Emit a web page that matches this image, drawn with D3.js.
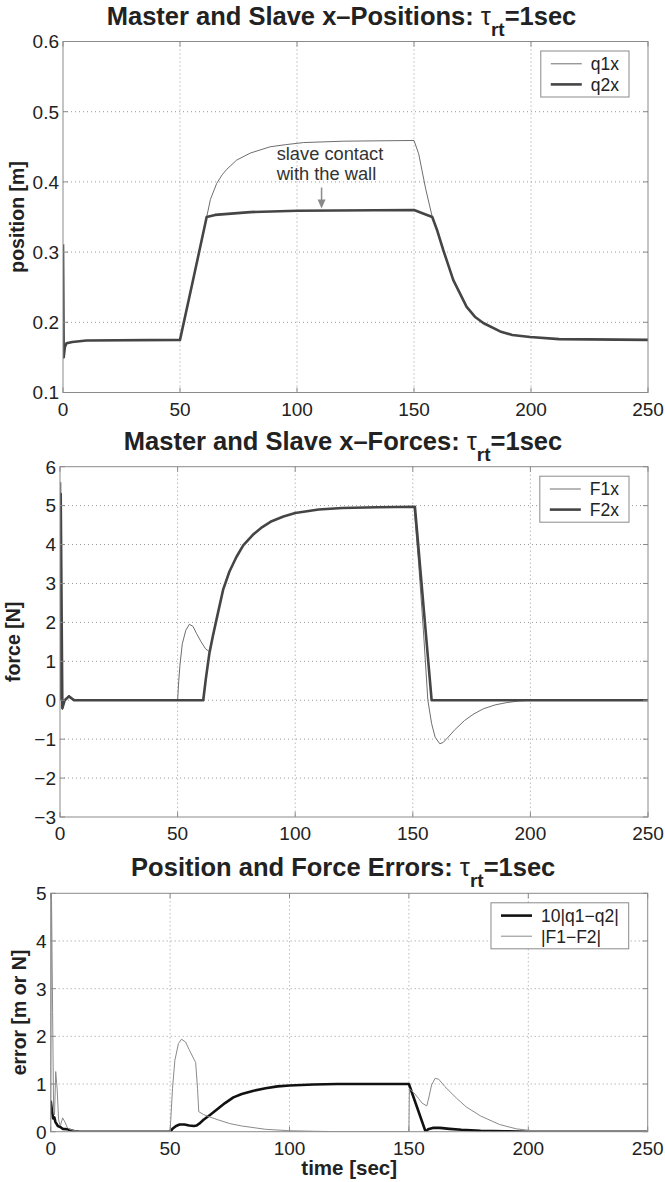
<!DOCTYPE html>
<html>
<head>
<meta charset="utf-8">
<script src="https://cdn.jsdelivr.net/npm/d3@7"></script>
<style>
  body { margin: 0; background: #fff; }
  svg { display: block; font-family: "Liberation Sans", Arial, Helvetica, sans-serif; }
</style>
</head>
<body>
<svg id="chart" width="665" height="1182"></svg>
<script>
// ---- data ----
const xTicks = [0, 50, 100, 150, 200, 250]
const posTicks = [0.1, 0.2, 0.3, 0.4, 0.5, 0.6]
const forceTicks = [-3, -2, -1, 0, 1, 2, 3, 4, 5, 6]
const errTicks = [0, 1, 2, 3, 4, 5]

// [time, value]
const q1x = [[0,0.30],[0.3,0.15],[0.8,0.165],[1.5,0.17],[4,0.172],[10,0.174],[50,0.175],[55.7,0.262],
  [61.4,0.35],[63,0.375],[65.7,0.398],[68,0.41],[70,0.418],[74.2,0.431],[80,0.441],[88.5,0.45],
  [95,0.453],[102.7,0.456],[120,0.458],[150,0.459],[152,0.44],[155,0.39],[157.8,0.35],[160,0.33],
  [162.5,0.303],[166.8,0.26],[172.5,0.222],[176,0.208],[179.6,0.199],[186.8,0.187],[192,0.182],
  [199.6,0.179],[212,0.176],[250,0.175]]
const q2x = [[0,0.311],[0.3,0.15],[0.8,0.165],[1.5,0.17],[4,0.172],[10,0.174],[50,0.175],[55.7,0.262],
  [61.4,0.35],[65,0.353],[80,0.357],[100,0.359],[150,0.36],[157.8,0.35],[160,0.33],
  [162.5,0.303],[166.8,0.26],[172.5,0.222],[176,0.208],[179.6,0.199],[186.8,0.187],[192,0.182],
  [199.6,0.179],[212,0.176],[250,0.175]]

const f1x = [[0,0],[0.3,5.6],[1,-0.25],[2,0],[3.8,0.13],[5.5,0.03],[8,0],[50,0],[50.5,0.5],[51,0.9],
  [52,1.45],[53.5,1.8],[55,1.95],[56.5,1.9],[58,1.72],[60,1.5],[61.9,1.32],[63.5,1.25],[65,1.65],
  [67,2.2],[69.4,2.85],[72,3.3],[75,3.68],[77.9,3.98],[82,4.25],[86,4.45],[90,4.6],[95,4.72],
  [100,4.81],[110,4.9],[120,4.94],[135,4.96],[150.5,4.97],[152.5,3.5],[154.5,1.8],[156.4,0],
  [158,-0.6],[159.5,-0.95],[161.5,-1.12],[163,-1.08],[165,-0.95],[168,-0.75],[172,-0.52],
  [176,-0.35],[180,-0.22],[185,-0.12],[190,-0.06],[195,-0.02],[200,0],[250,0]]
const f2x = [[0,0],[0.3,5.3],[1,-0.2],[2,0],[3.8,0.1],[6,0],[50,0],[60.9,0],[62,0.55],[63.5,1.2],
  [65,1.65],[67,2.2],[69.4,2.85],[72,3.3],[75,3.68],[77.9,3.98],[82,4.25],[86,4.45],[90,4.6],
  [95,4.72],[100,4.81],[110,4.9],[120,4.94],[135,4.96],[150.9,4.97],[158,0],[250,0]]

const posErr = [[0,0.65],[0.5,0.45],[1,0.28],[1.5,0.3],[2,0.2],[3,0.12],[4,0.1],[5,0.06],[7,0.05],
  [10,0.01],[12,0],[50,0],[51,0.06],[52.5,0.12],[54,0.15],[56,0.15],[58,0.13],[60,0.12],[61.1,0.13],
  [62.5,0.18],[64,0.25],[66.7,0.35],[70,0.48],[73,0.6],[76.5,0.72],[80,0.79],[85,0.86],[90,0.91],
  [95,0.95],[100,0.97],[110,0.99],[120,1.0],[150,1.0],[157,0],[158,0.05],[160,0.08],[163,0.08],
  [167,0.06],[172,0.04],[180,0.02],[190,0.01],[200,0],[250,0]]
const forceErr = [[0,0],[0.3,5.1],[0.8,2.5],[1.2,0.5],[1.6,0.35],[2.1,1.26],[2.7,0.9],[3.3,0.25],
  [4,0.12],[5,0.29],[6,0.2],[7,0.08],[8,0.05],[10,0.02],[12,0],[50,0],[51,0.9],[52,1.5],[53.5,1.85],
  [54.8,1.94],[56.5,1.88],[58,1.72],[60,1.52],[60.7,1.45],[61.5,0.9],[62,0.42],[64,0.36],[66,0.32],
  [70,0.25],[75,0.17],[80,0.12],[90,0.05],[100,0.02],[110,0.01],[120,0],[150,0],[150.2,0.9],
  [152,0.82],[154,0.7],[155.5,0.6],[157.5,0.54],[158.5,0.75],[159.5,0.98],[161,1.12],[162.5,1.1],
  [165,0.95],[170,0.7],[174,0.52],[180,0.33],[188,0.15],[195,0.06],[200,0.03],[207,0],[250,0]]

const annotText = ["slave contact", "with the wall"]
const annotAt = [91.3, 0.431]
const arrowAt = [110.5, 0.392, 0.362]

// ---- drawing ----
const svg = d3.select("#chart")
svg.append("rect").attr("width", 665).attr("height", 1182).attr("fill", "#fff")

const GRID = "#9a9a9a"
const FRAME = "#8a8a8a"
const TXT = "#222"

const panels = [
  { id: "p1", box: { left: 63, right: 648, top: 41.5, bottom: 392.5 }, domain: [0.1, 0.6], ticks: posTicks,
    fmt: d3.format(".1f"), title: "Master and Slave x\u2013Positions: ", titleDx: -14,
    ylabel: "position [m]", ylabelX: 24,
    series: [ { name: "q1x", data: q1x, color: "#6e6e6e", width: 1 },
              { name: "q2x", data: q2x, color: "#454545", width: 2.6 } ] },
  { id: "p2", box: { left: 60, right: 648, top: 466.7, bottom: 817 }, domain: [-3, 6], ticks: forceTicks,
    fmt: d3.format("d"), title: "Master and Slave x\u2013Forces: ", titleDx: -11,
    ylabel: "force [N]", ylabelX: 20,
    series: [ { name: "F1x", data: f1x, color: "#6e6e6e", width: 1 },
              { name: "F2x", data: f2x, color: "#454545", width: 2.6 } ] },
  { id: "p3", box: { left: 50.7, right: 647.7, top: 893.3, bottom: 1131.7 }, domain: [0, 5], ticks: errTicks,
    fmt: d3.format("d"), title: "Position and Force Errors: ", titleDx: -6,
    ylabel: "error [m or N]", ylabelX: 26, xlabel: "time [sec]",
    series: [ { name: "10|q1\u2212q2|", data: posErr, color: "#111", width: 2.6 },
              { name: "|F1\u2212F2|", data: forceErr, color: "#8a8a8a", width: 1 } ] }
]

panels.forEach(p => {
  const b = p.box
  const x = d3.scaleLinear().domain([0, 250]).range([b.left, b.right])
  const y = d3.scaleLinear().domain(p.domain).range([b.bottom, b.top])
  const g = svg.append("g")

  // grid
  g.selectAll(".gx").data(xTicks.slice(1, -1)).enter().append("line")
    .attr("x1", d => x(d)).attr("x2", d => x(d)).attr("y1", b.top).attr("y2", b.bottom)
    .attr("stroke", GRID).attr("stroke-width", 1).attr("stroke-dasharray", "1,3")
  g.selectAll(".gy").data(p.ticks.slice(1, -1)).enter().append("line")
    .attr("y1", d => y(d)).attr("y2", d => y(d)).attr("x1", b.left).attr("x2", b.right)
    .attr("stroke", GRID).attr("stroke-width", 1).attr("stroke-dasharray", "1,3")

  // series
  svg.append("clipPath").attr("id", "clip-" + p.id).append("rect")
    .attr("x", b.left).attr("y", b.top).attr("width", b.right - b.left).attr("height", b.bottom - b.top)
  const line = d3.line().x(d => x(d[0])).y(d => y(d[1]))
  p.series.forEach(s => {
    g.append("path").datum(s.data).attr("d", line)
      .attr("fill", "none").attr("stroke", s.color).attr("stroke-width", s.width)
      .attr("stroke-linejoin", "round").attr("clip-path", `url(#clip-${p.id})`)
  })

  // frame and ticks
  g.append("rect").attr("x", b.left).attr("y", b.top)
    .attr("width", b.right - b.left).attr("height", b.bottom - b.top)
    .attr("fill", "none").attr("stroke", FRAME).attr("stroke-width", 1)
  xTicks.forEach(t => {
    g.append("line").attr("x1", x(t)).attr("x2", x(t)).attr("y1", b.bottom).attr("y2", b.bottom - 5).attr("stroke", FRAME)
    g.append("line").attr("x1", x(t)).attr("x2", x(t)).attr("y1", b.top).attr("y2", b.top + 5).attr("stroke", FRAME)
  })
  p.ticks.forEach(t => {
    g.append("line").attr("y1", y(t)).attr("y2", y(t)).attr("x1", b.left).attr("x2", b.left + 5).attr("stroke", FRAME)
    g.append("line").attr("y1", y(t)).attr("y2", y(t)).attr("x1", b.right).attr("x2", b.right - 5).attr("stroke", FRAME)
  })

  // tick labels
  g.selectAll(".xl").data(xTicks).enter().append("text")
    .attr("x", d => x(d)).attr("y", b.bottom + 23).attr("text-anchor", "middle")
    .attr("font-size", 19).attr("fill", TXT).text(d => d)
  g.selectAll(".yl").data(p.ticks).enter().append("text")
    .attr("x", b.left - 4).attr("y", d => y(d)).attr("dy", "0.36em").attr("text-anchor", "end")
    .attr("font-size", 19).attr("fill", TXT).text(d => p.fmt(d))

  // y label
  g.append("text")
    .attr("transform", `translate(${p.ylabelX},${(b.top + b.bottom) / 2}) rotate(-90)`)
    .attr("text-anchor", "middle").attr("font-size", 19.5).attr("font-weight", "bold").attr("fill", TXT)
    .text(p.ylabel)

  // title
  const title = g.append("text").attr("x", (b.left + b.right) / 2 + p.titleDx).attr("y", b.top - 17)
    .attr("text-anchor", "middle").attr("font-size", 25.5).attr("font-weight", "bold").attr("fill", TXT)
  title.append("tspan").text(p.title)
  title.append("tspan").attr("font-weight", "normal").text("\u03c4")
  title.append("tspan").attr("font-size", 19).attr("dy", 11).text("rt")
  title.append("tspan").attr("dy", -11).text("=1sec")

  // x label
  if (p.xlabel) {
    g.append("text").attr("x", (b.left + b.right) / 2).attr("y", b.bottom + 43.5)
      .attr("text-anchor", "middle").attr("font-size", 20.5).attr("font-weight", "bold").attr("fill", TXT)
      .text(p.xlabel)
  }

  // legend
  const lg = g.append("g")
  const texts = p.series.map(s => lg.append("text")
    .attr("font-size", 17.5).attr("fill", TXT).text(s.name))
  const tw = d3.max(texts, t => t.node().getComputedTextLength())
  const lw = 10 + 31 + 9 + tw + 10
  const lx = b.right - 19 - lw
  const ly = b.top + 9.5
  lg.insert("rect", ":first-child").attr("x", lx).attr("y", ly).attr("width", lw).attr("height", 46)
    .attr("fill", "#fff").attr("stroke", FRAME)
  p.series.forEach((s, i) => {
    const yy = ly + 12.8 + i * 20.6
    lg.append("line").attr("x1", lx + 10).attr("x2", lx + 41).attr("y1", yy).attr("y2", yy)
      .attr("stroke", s.color).attr("stroke-width", s.width)
    texts[i].attr("x", lx + 50).attr("y", yy).attr("dy", "0.36em")
  })

  // annotation on the position panel
  if (p.id === "p1") {
    const at = g.append("text").attr("font-size", 18.3).attr("fill", "#333")
    annotText.forEach((t, i) => {
      at.append("tspan").attr("x", x(annotAt[0])).attr("y", y(annotAt[1]) + i * 20).text(t)
    })
    const ax = x(arrowAt[0]), ay0 = y(arrowAt[1]), ay1 = y(arrowAt[2])
    g.append("line").attr("x1", ax).attr("x2", ax).attr("y1", ay0).attr("y2", ay1 - 8)
      .attr("stroke", "#8a8a8a").attr("stroke-width", 1.5)
    g.append("path").attr("d", `M${ax - 4},${ay1 - 9}L${ax + 4},${ay1 - 9}L${ax},${ay1}Z`).attr("fill", "#8a8a8a")
  }
})
</script>
</body>
</html>
